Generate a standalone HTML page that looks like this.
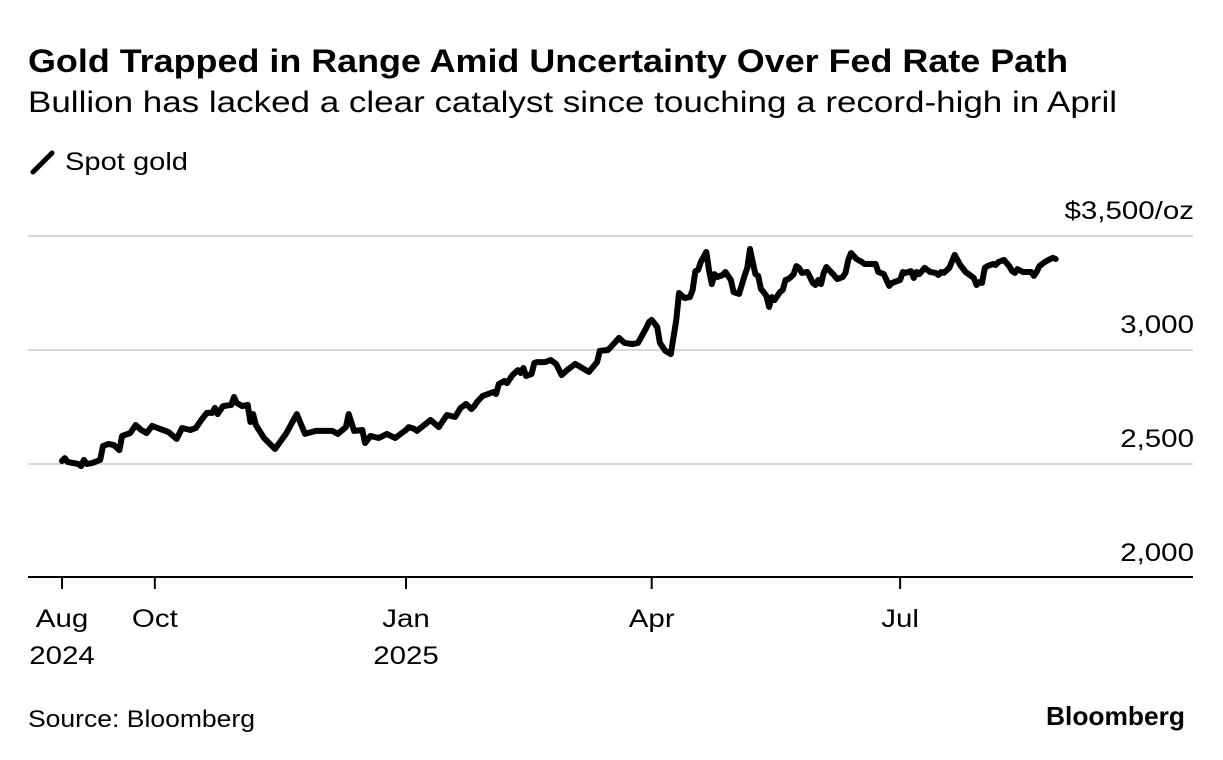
<!DOCTYPE html>
<html><head><meta charset="utf-8"><style>
body{margin:0;background:#fff;width:1223px;height:760px;overflow:hidden;font-family:"Liberation Sans",sans-serif;color:#000}
</style></head><body>
<svg width="1223" height="760" style="position:absolute;left:0;top:0">
<text x="28" y="72" font-size="32" font-weight="bold" textLength="1040" lengthAdjust="spacingAndGlyphs">Gold Trapped in Range Amid Uncertainty Over Fed Rate Path</text>
<text x="28" y="112" font-size="30" textLength="1089" lengthAdjust="spacingAndGlyphs">Bullion has lacked a clear catalyst since touching a record-high in April</text>
<line x1="33" y1="172" x2="52" y2="153" stroke="#000" stroke-width="5" stroke-linecap="round"/>
<text x="65" y="170" font-size="25" textLength="123" lengthAdjust="spacingAndGlyphs">Spot gold</text>
<g id="grid"></g>
<g id="xaxis"></g>
<path id="line" fill="none" stroke="#000" stroke-width="6" stroke-linejoin="round" stroke-linecap="round"/>
<text x="28" y="727" font-size="24" textLength="227" lengthAdjust="spacingAndGlyphs">Source: Bloomberg</text>
<text x="1046" y="725" font-size="26" font-weight="bold" textLength="139" lengthAdjust="spacingAndGlyphs">Bloomberg</text>
</svg>
<script>
const days=[-126,-125,-124,-120,-119,-118,-117,-115,-113,-112,-111,-109,-107,-105,-104,-101,-99,-97,-95,-93,-91,-89,-87,-84,-82,-79,-77,-75,-73,-71,-70,-69,-67,-64,-63,-62,-60,-58,-57,-56,-55,-52,-48,-44,-40,-37,-33,-29,-27,-25,-22,-21,-19,-16,-15,-13,-10,-7,-4,0,1,3,4,9,12,15,18,20,22,24,25,26,28,32,33,34,36,37,39,41,42,43,44,46,47,48,51,53,55,57,59,62,67,70,71,74,75,77,78,80,83,85,86,88,89,90,92,93,95,97,99,100,102,104,105,106,107,108,110,111,112,113,114,116,117,119,120,122,124,125,126,127,128,129,130,131,132,133,134,135,136,137,138,139,140,141,142,143,144,145,147,148,149,150,151,152,153,154,155,156,157,158,160,161,162,163,165,167,168,172,173,175,176,177,178,181,182,183,185,186,187,188,190,191,192,194,195,196,197,199,201,203,205,207,208,209,210,211,212,213,215,216,217,219,221,222,223,224,226,228,229,230,231,232,233,234,236,237,238];
const prices=[2513,2526,2509,2500,2491,2518,2500,2504,2513,2518,2579,2588,2583,2561,2623,2636,2671,2649,2636,2667,2658,2649,2640,2610,2658,2649,2658,2693,2724,2724,2746,2719,2754,2759,2794,2768,2754,2759,2684,2719,2671,2614,2566,2632,2719,2632,2645,2645,2645,2632,2662,2719,2645,2649,2592,2623,2614,2632,2614,2649,2662,2654,2645,2693,2662,2715,2706,2746,2763,2741,2754,2772,2798,2816,2807,2851,2864,2855,2890,2912,2899,2921,2886,2895,2943,2947,2947,2956,2939,2890,2912,2939,2904,2947,2996,3000,3013,3039,3053,3031,3026,3031,3053,3096,3123,3132,3101,3031,2996,2982,3132,3250,3228,3232,3263,3346,3351,3386,3430,3351,3289,3333,3320,3329,3342,3307,3254,3246,3325,3360,3443,3386,3333,3325,3268,3254,3237,3189,3232,3219,3237,3254,3263,3307,3311,3320,3333,3368,3360,3338,3342,3320,3294,3285,3307,3289,3338,3364,3351,3338,3325,3311,3320,3338,3395,3425,3399,3386,3377,3377,3342,3333,3307,3281,3294,3307,3342,3338,3346,3316,3342,3333,3360,3351,3342,3338,3329,3342,3338,3360,3417,3373,3342,3325,3316,3285,3298,3294,3360,3368,3377,3373,3386,3395,3368,3346,3338,3355,3342,3342,3342,3325,3342,3368,3377,3386,3399,3404,3399];
const yTicks=[2000,2500,3000,3500];
const yLabels=["2,000","2,500","3,000","$3,500/oz"];
const xTickDays=[-126,-92,0,90,181];
const xLabels1=["Aug","Oct","Jan","Apr","Jul"];
const xLabels2=["2024","","2025","",""];
const NS="http://www.w3.org/2000/svg";
const X=d=>406+d*2.73;
const Y=v=>464-(v-2500)*0.228;
function mk(tag,attrs,parent,txt){const e=document.createElementNS(NS,tag);for(const k in attrs)e.setAttribute(k,attrs[k]);if(txt!==undefined)e.textContent=txt;parent.appendChild(e);return e;}
const grid=document.getElementById('grid');
yTicks.forEach((v,i)=>{
  if(i>0){const l=mk('line',{x1:28,x2:1193,y1:Y(v),y2:Y(v),stroke:'#d9d9d9','stroke-width':2},grid);
  
  }
  const t=mk('text',{x:1194,y:Y(v)-17,'font-size':25,'text-anchor':'end',transform:'translate(1194,0) scale(1.18,1) translate(-1194,0)'},grid,yLabels[i]);
  
  
});
const xa=document.getElementById('xaxis');
const ax=mk('line',{x1:28,x2:1193,y1:577,y2:577,stroke:'#000','stroke-width':2},xa);


xTickDays.forEach((d,i)=>{
  const cx=X(d);
  const tk=mk('line',{x1:cx,x2:cx,y1:577,y2:589,stroke:'#000','stroke-width':2},xa);
  
  
  const tr='translate('+cx+',0) scale(1.18,1) translate('+(-cx)+',0)';
  const t=mk('text',{x:cx,y:627,'font-size':25,'text-anchor':'middle',transform:tr},xa,xLabels1[i]);
  
  
  if(xLabels2[i]){const t2=mk('text',{x:cx,y:664,'font-size':25,'text-anchor':'middle',transform:tr},xa,xLabels2[i]);
  
  }
});
document.getElementById('line').setAttribute('d',days.map((d,i)=>(i?'L':'M')+X(d).toFixed(1)+','+Y(prices[i]).toFixed(1)).join(''));
</script>
</body></html>
